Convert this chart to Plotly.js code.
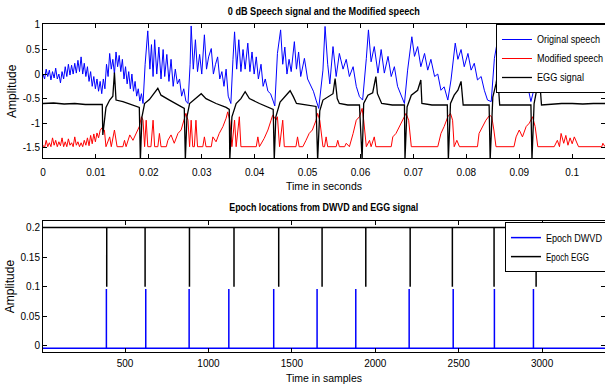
<!DOCTYPE html>
<html><head><meta charset="utf-8">
<script src="https://cdn.plot.ly/plotly-3.0.1.min.js"></script>
<style>body{margin:0;background:#fff}#c{width:605px;height:392px}</style>
</head><body><div id="c"></div><script>
// ---- top panel data: [time in ms, amplitude] ----
const originalSpeech = [[0,0.0],[0.3,-0.1],[0.6,0.1],[0.9,-0.05],[1.2,0.08],[1.5,-0.12],[1.8,0.05],[2.1,-0.08],[2.4,0.12],[2.7,-0.1],[3.0,0.0],[3.3,-0.18],[3.6,0.05],[3.9,-0.1],[4.2,0.15],[4.5,-0.05],[4.8,0.2],[5.1,-0.02],[5.4,0.18],[5.7,0.0],[6.0,0.22],[6.3,0.02],[6.6,0.28],[6.9,0.05],[7.2,0.35],[7.5,0.0],[7.8,0.22],[8.1,-0.05],[8.4,0.15],[8.7,-0.15],[9.0,0.05],[9.3,-0.25],[9.6,-0.05],[9.9,-0.3],[10.2,-0.1],[10.5,-0.35],[10.8,-0.15],[11.1,-0.4],[11.4,-0.1],[11.7,-0.3],[12.0,0.2],[12.3,-0.05],[12.6,0.42],[12.9,0.1],[13.2,0.3],[13.5,0.0],[13.8,0.45],[14.1,0.15],[14.4,0.38],[14.7,0.05],[15.0,0.3],[15.3,-0.1],[15.6,0.15],[15.9,-0.2],[16.2,0.05],[16.5,-0.3],[16.8,0.0],[17.1,-0.35],[17.4,-0.15],[17.7,-0.45],[18.0,-0.3],[18.3,-0.55],[18.6,-0.4],[18.9,-0.6],[19.3,0.2],[19.8,0.88],[20.2,0.1],[20.5,0.6],[20.8,-0.05],[21.1,0.7],[21.5,0.0],[21.9,0.55],[22.3,-0.1],[22.7,0.5],[23.0,-0.05],[23.4,0.4],[23.8,-0.15],[24.2,0.3],[24.6,-0.25],[25.0,0.1],[25.4,-0.2],[25.8,-0.1],[26.2,-0.45],[26.6,-0.3],[27.0,-0.55],[27.4,-0.6],[27.8,0.2],[28.0,0.98],[28.4,0.1],[28.8,0.7],[29.2,0.05],[29.6,0.4],[30.0,0.0],[30.5,0.8],[30.9,0.1],[31.3,0.35],[31.8,0.52],[32.2,0.0],[32.6,0.2],[33.0,0.35],[33.4,-0.1],[33.8,0.05],[34.2,-0.25],[34.6,0.1],[35.0,-0.45],[35.5,-0.6],[35.9,0.3],[36.2,0.86],[36.6,0.1],[37.0,0.7],[37.4,0.05],[37.8,0.5],[38.2,0.1],[38.7,0.63],[39.1,0.05],[39.5,0.45],[39.9,0.0],[40.3,0.35],[40.7,-0.1],[41.2,0.2],[41.6,-0.25],[42.0,-0.1],[42.5,-0.35],[43.0,-0.4],[43.5,-0.55],[43.8,-0.65],[44.3,0.42],[44.9,0.9],[45.3,0.2],[45.7,0.55],[46.1,0.0],[46.5,0.3],[46.9,0.05],[47.5,0.66],[47.9,0.1],[48.3,0.45],[48.7,-0.05],[49.4,0.32],[50.0,-0.1],[50.7,-0.26],[51.1,-0.35],[51.6,-0.53],[52.1,-0.7],[52.9,0.08],[53.3,0.97],[53.8,0.2],[54.2,-0.2],[54.8,0.56],[55.4,-0.05],[56.0,0.42],[56.7,0.1],[57.3,0.3],[57.9,-0.05],[58.6,0.15],[59.2,-0.25],[59.8,-0.46],[60.4,-0.53],[61.1,0.32],[61.5,0.9],[62.0,0.25],[62.6,0.56],[63.3,0.02],[63.9,0.5],[64.5,0.02],[65.2,0.36],[65.8,-0.05],[66.4,0.15],[67.0,-0.25],[67.7,-0.46],[68.3,-0.6],[68.9,0.08],[69.7,0.76],[70.2,0.36],[70.8,0.56],[71.4,0.15],[72.1,0.42],[72.7,0.08],[73.3,0.3],[74.0,-0.05],[74.6,0.0],[75.2,-0.33],[75.8,-0.26],[76.5,-0.53],[77.1,-0.12],[77.9,0.63],[78.4,0.3],[79.0,0.5],[79.6,0.15],[80.3,0.42],[80.9,0.08],[81.5,0.22],[82.1,-0.12],[82.8,-0.05],[83.4,-0.33],[84.0,-0.53],[84.7,-0.56],[85.3,0.32],[85.8,0.63],[86.3,0.1],[87.0,0.3],[87.5,-0.1],[88.0,0.1],[88.5,-0.22],[89.0,0.0],[89.7,-0.26],[90.3,-0.1],[90.9,-0.33],[91.5,-0.2],[92.2,-0.56],[92.8,-0.3],[93.2,0.2],[93.6,-0.1],[94.2,0.0],[95.0,-0.1],[96.0,0.05],[97.0,-0.05],[98.0,-0.2],[99.0,0.0],[99.8,-0.22],[101.0,-0.05],[102.0,0.0],[103.0,-0.1],[104.0,0.05],[105.0,-0.05],[106.2,0.0]];

const modifiedSpeech = [[0,-1.45],[0.3,-1.5],[0.6,-1.35],[0.9,-1.48],[1.2,-1.4],[1.5,-1.48],[1.8,-1.3],[2.1,-1.45],[2.4,-1.35],[2.7,-1.48],[3.0,-1.38],[3.3,-1.46],[3.6,-1.3],[3.9,-1.48],[4.2,-1.38],[4.5,-1.48],[4.8,-1.32],[5.1,-1.45],[5.4,-1.4],[5.7,-1.48],[6.0,-1.28],[6.3,-1.45],[6.6,-1.38],[6.9,-1.48],[7.2,-1.4],[7.5,-1.48],[7.8,-1.35],[8.1,-1.45],[8.4,-1.3],[8.7,-1.46],[9.0,-1.25],[9.3,-1.42],[9.6,-1.22],[9.9,-1.38],[10.2,-1.2],[10.5,-1.3],[10.8,-1.15],[11.1,-1.1],[11.6,-1.14],[11.9,-1.48],[12.6,-1.28],[12.9,-1.48],[13.5,-1.14],[14.0,-1.48],[15.1,-1.48],[15.4,-1.35],[15.7,-1.48],[16.4,-1.24],[17.0,-1.35],[17.6,-1.21],[18.2,-1.07],[18.6,-0.87],[18.9,-0.94],[19.2,-1.48],[19.5,-0.94],[19.8,-1.48],[20.4,-1.48],[20.8,-0.94],[21.1,-1.48],[21.7,-1.48],[22.0,-1.21],[22.3,-1.48],[23.3,-1.48],[23.6,-1.35],[24.2,-1.24],[24.8,-1.41],[25.5,-1.21],[26.1,-1.14],[26.7,-0.94],[27.0,-0.8],[27.4,-0.94],[27.7,-1.48],[28.0,-0.94],[28.3,-1.48],[28.6,-1.48],[28.9,-0.94],[29.2,-1.48],[30.2,-1.48],[30.5,-1.28],[30.8,-1.48],[31.8,-1.48],[32.1,-1.28],[32.7,-1.38],[33.3,-1.21],[34.0,-1.07],[34.6,-0.9],[34.9,-0.77],[35.3,-0.94],[35.7,-1.48],[36.2,-0.94],[36.5,-1.48],[37.1,-0.87],[37.4,-1.48],[40.3,-1.48],[40.6,-1.28],[40.9,-1.48],[41.8,-1.31],[42.5,-1.14],[43.1,-0.94],[43.4,-0.84],[43.7,-0.87],[44.0,-0.94],[44.3,-0.87],[44.7,-1.48],[45.3,-0.94],[45.6,-1.48],[47.8,-1.48],[48.1,-1.28],[48.4,-1.48],[49.1,-1.48],[49.7,-1.35],[50.3,-1.21],[50.9,-1.14],[51.6,-0.94],[51.9,-0.8],[52.3,-0.94],[52.9,-1.48],[53.2,-1.48],[53.5,-1.28],[53.8,-1.48],[55.4,-1.48],[55.7,-1.35],[56.0,-1.48],[57.0,-1.48],[57.3,-1.41],[57.9,-1.48],[58.6,-1.21],[59.2,-0.94],[59.8,-0.87],[60.3,-0.7],[60.6,-0.94],[61.1,-1.48],[61.7,-1.35],[62.0,-1.48],[62.6,-1.28],[62.9,-1.48],[65.8,-1.48],[66.1,-1.28],[66.7,-1.21],[67.4,-1.07],[68.0,-0.94],[68.6,-0.8],[69.1,-0.94],[69.6,-1.48],[74.6,-1.48],[75.2,-1.21],[75.8,-1.07],[76.5,-0.87],[77.0,-0.8],[77.4,-0.94],[77.7,-1.48],[78.2,-1.35],[78.7,-1.48],[82.1,-1.48],[82.4,-1.21],[83.1,-1.07],[83.7,-0.94],[84.4,-0.84],[84.8,-0.87],[85.2,-1.14],[85.6,-1.48],[89.0,-1.48],[89.4,-1.28],[90.0,-1.14],[90.6,-1.28],[91.3,-1.07],[91.9,-1.0],[92.5,-0.87],[93.0,-1.07],[93.5,-1.48],[96.6,-1.48],[97.2,-1.35],[97.6,-1.48],[97.9,-1.21],[98.4,-1.41],[98.8,-1.25],[99.2,-1.45],[99.6,-1.3],[100.0,-1.42],[100.4,-1.28],[100.8,-1.38],[101.2,-1.48],[105.6,-1.48],[105.8,-1.41],[106.2,-1.48]];

const eggSignal = [[0,-0.6],[2,-0.59],[4,-0.61],[6,-0.6],[8,-0.62],[10,-0.62],[11.2,-0.62],[11.3,-1.24],[11.9,-0.68],[12.6,-0.53],[13.2,-0.45],[13.5,0.03],[13.8,-0.53],[15.1,-0.56],[17.0,-0.63],[18.2,-0.68],[18.4,-1.75],[18.7,-0.87],[19.2,-0.6],[20.1,-0.52],[21.7,-0.29],[22.3,-0.43],[23.9,-0.53],[25.5,-0.63],[26.7,-0.7],[26.9,-1.75],[27.2,-0.87],[27.7,-0.6],[28.9,-0.5],[29.9,-0.4],[30.8,-0.5],[32.7,-0.6],[34.6,-0.68],[35.2,-0.72],[35.3,-1.75],[35.7,-0.87],[36.5,-0.6],[37.4,-0.5],[38.2,-0.36],[39.0,-0.5],[40.9,-0.6],[42.8,-0.68],[43.5,-0.72],[43.7,-1.75],[44.0,-0.87],[44.8,-0.57],[45.6,-0.48],[46.7,-0.34],[47.3,-0.46],[47.9,-0.6],[49.7,-0.63],[51.6,-0.66],[51.9,-1.75],[52.3,-0.75],[52.9,-0.53],[53.8,-0.46],[54.8,-0.4],[55.2,-0.09],[55.6,-0.5],[56.0,-0.6],[57.6,-0.63],[59.8,-0.63],[60.3,-1.75],[60.6,-0.6],[61.4,-0.43],[62.3,-0.38],[62.9,-0.05],[63.2,-0.4],[64.0,-0.6],[66.0,-0.63],[68.3,-0.63],[68.4,-1.75],[68.8,-0.67],[69.6,-0.43],[70.8,-0.33],[71.4,-0.12],[71.6,-0.6],[73.5,-0.63],[76.4,-0.63],[76.6,-1.75],[77.0,-0.6],[77.7,-0.43],[78.4,-0.33],[79.0,-0.15],[79.4,-0.63],[82.0,-0.63],[84.3,-0.63],[84.5,-1.75],[85.0,-0.47],[85.6,-0.2],[85.9,0.0],[86.3,-0.63],[89.0,-0.63],[92.2,-0.63],[92.4,-1.75],[92.8,-0.6],[93.4,-0.26],[93.8,-0.05],[94.2,-0.63],[96,-0.61],[98,-0.6],[100,-0.6],[102,-0.61],[104,-0.6],[106.2,-0.6]];

// ---- bottom panel data: epoch locations (samples) ----
const epochDWVD = [388, 624, 884, 1122, 1391, 1651, 1883, 2203, 2467, 2714, 2948];
const epochEGG  = [390, 620, 886, 1153, 1421, 1681, 1943, 2209, 2462, 2712, 2964];
const dwvdLevels = {base: -0.004, peak: 0.096};
const eggLevels  = {base: 0.2, peak: 0.1};
const sampleSpan = [1, 3392];

// ---- tick labels ----
const topXTicks = [0,0.01,0.02,0.03,0.04,0.05,0.06,0.07,0.08,0.09,0.1];
const topXText  = ["0","0.01","0.02","0.03","0.04","0.05","0.06","0.07","0.08","0.09","0.1"];
const topYTicks = [1,0.5,0,-0.5,-1,-1.5];
const topYText  = ["1","0.5","0","-0.5","-1","-1.5"];
const botXTicks = [500,1000,1500,2000,2500,3000];
const botXText  = ["500","1000","1500","2000","2500","3000"];
const botYTicks = [0,0.05,0.1,0.15,0.2];
const botYText  = ["0","0.05","0.1","0.15","0.2"];

function toXY(pairs){ return {x: pairs.map(p => p[0]/1000), y: pairs.map(p => p[1])}; }
function spikes(ep, lv){
  const x=[sampleSpan[0]], y=[lv.base];
  ep.forEach(e => { x.push(e,e,e); y.push(lv.base, lv.peak, lv.base); });
  x.push(sampleSpan[1]); y.push(lv.base);
  return {x, y};
}

const tickFont = {family: "Liberation Sans, Arial, sans-serif", size: 10, color: "#000"};
const titleFont = {family: "Liberation Sans, Arial, sans-serif", size: 10.5, color: "#000", weight: "bold"};
const labFont = {family: "Liberation Sans, Arial, sans-serif", size: 10.5, color: "#000"};
const ampFont = {family: "Liberation Sans, Arial, sans-serif", size: 12, color: "#000"};
const legFont = {family: "Liberation Sans, Arial, sans-serif", size: 10, color: "#000"};
// condensed text widths (px) to imitate the narrow fonts of the original
const textFit = {
  '0 dB Speech signal and the Modified speech': 192,
  'Epoch locations from DWVD and EGG signal': 189,
  'Original speech': 63, 'Modified speech': 66, 'EGG signal': 47,
  'Epoch DWVD': 56, 'Epoch EGG': 43
};

const s1 = toXY(originalSpeech), s2 = toXY(modifiedSpeech), s3 = toXY(eggSignal);
const b1 = spikes(epochDWVD, dwvdLevels), b2 = spikes(epochEGG, eggLevels);

const traces = [
  {x:s1.x, y:s1.y, mode:'lines', name:'Original speech', line:{color:'#0000ff', width:1}, xaxis:'x', yaxis:'y', legend:'legend'},
  {x:s2.x, y:s2.y, mode:'lines', name:'Modified speech', line:{color:'#ff0000', width:1}, xaxis:'x', yaxis:'y', legend:'legend'},
  {x:s3.x, y:s3.y, mode:'lines', name:'EGG signal', line:{color:'#000000', width:1.3}, xaxis:'x', yaxis:'y', legend:'legend'},
  {x:b1.x, y:b1.y, mode:'lines', name:'Epoch DWVD', line:{color:'#0000ff', width:1.5}, xaxis:'x2', yaxis:'y2', legend:'legend2'},
  {x:b2.x, y:b2.y, mode:'lines', name:'Epoch EGG', line:{color:'#000000', width:1.5}, xaxis:'x2', yaxis:'y2', legend:'legend2'}
];

const axBase = {showline:true, linecolor:'#000', linewidth:1, mirror:'ticks', ticks:'inside', ticklen:4, tickcolor:'#000', showgrid:false, zeroline:false, tickfont:tickFont, fixedrange:true};

const layout = {
  width:605, height:392, paper_bgcolor:'#fff', plot_bgcolor:'#fff',
  margin:{l:43, r:0, t:24, b:40, autoexpand:false},
  showlegend:true,
  xaxis: Object.assign({}, axBase, {domain:[0,1], anchor:'y', range:[0,0.1062], tickvals:topXTicks, ticktext:topXText, ticklabelstandoff:5,
    title:{text:'Time in seconds', font:labFont, standoff:5}}),
  yaxis: Object.assign({}, axBase, {domain:[0.59,1], anchor:'x', range:[-1.72,1.02], tickvals:topYTicks, ticktext:topYText,
    title:{text:'Amplitude', font:ampFont, standoff:3}}),
  xaxis2: Object.assign({}, axBase, {domain:[0,1], anchor:'y2', range:[8,3377], tickvals:botXTicks, ticktext:botXText, ticklabelstandoff:2,
    title:{text:'Time in samples', font:labFont, standoff:6}}),
  yaxis2: Object.assign({}, axBase, {domain:[0,0.399], anchor:'x2', range:[-0.0105,0.2107], tickvals:botYTicks, ticktext:botYText,
    title:{text:'Amplitude', font:ampFont, standoff:3}}),
  legend: {x:0.806, xanchor:'left', y:1.0, yanchor:'top', bgcolor:'#fff', bordercolor:'#000', borderwidth:1,
    font:legFont, tracegroupgap:0},
  legend2: {x:0.822, xanchor:'left', y:0.396, yanchor:'top', bgcolor:'#fff', bordercolor:'#000', borderwidth:1,
    font:legFont, tracegroupgap:0},
  annotations: [
    {text:'0 dB Speech signal and the Modified speech', xref:'paper', yref:'paper', x:0.5, y:1, yshift:13, xanchor:'center', yanchor:'middle', showarrow:false, font:titleFont},
    {text:'Epoch locations from DWVD and EGG signal', xref:'paper', yref:'paper', x:0.5, y:0.399, yshift:14, xanchor:'center', yanchor:'middle', showarrow:false, font:titleFont}
  ]
};

function fitTexts(){
  document.querySelectorAll('#c text').forEach(el => {
    const w = textFit[el.textContent.trim()];
    if (w) { el.setAttribute('textLength', w); el.setAttribute('lengthAdjust', 'spacingAndGlyphs'); }
  });
}
const gd = document.getElementById('c');
Plotly.newPlot(gd, traces, layout, {displayModeBar:false, staticPlot:true}).then(() => {
  fitTexts();
  gd.on('plotly_afterplot', fitTexts);
  setTimeout(fitTexts, 0);
  setTimeout(fitTexts, 100);
});
</script></body></html>
